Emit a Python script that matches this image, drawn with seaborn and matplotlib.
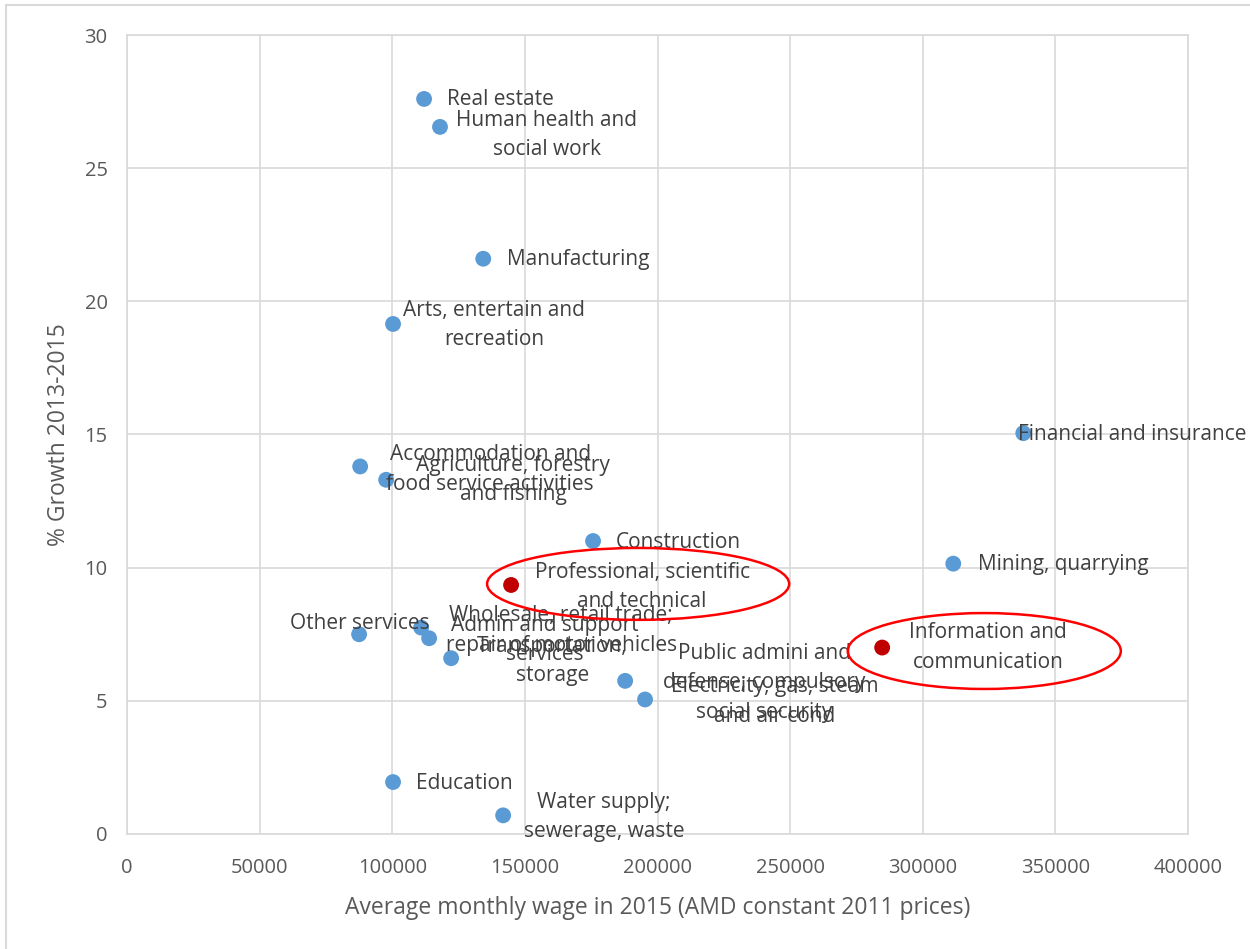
import matplotlib.pyplot as plt
import pandas as pd
import seaborn as sns
from matplotlib.patches import Ellipse, Rectangle


# Chart data
sectors = [
    "Real estate",
    "Human health and\nsocial work",
    "Manufacturing",
    "Arts, entertain and\nrecreation",
    "Financial and insurance",
    "Accommodation and\nfood service activities",
    "Agriculture, forestry\nand fishing",
    "Construction",
    "Mining, quarrying",
    "Professional, scientific\nand technical",
    "Information and\ncommunication",
    "Other services",
    "Wholesale, retail trade;\nrepair of motor vehicles",
    "Admin and support\nservices",
    "Transportation,\nstorage",
    "Public admini and\ndefense; compulsory\nsocial security",
    "Electricity, gas, steam\nand air cond",
    "Education",
    "Water supply;\nsewerage, waste",
]
wages = [112000, 118000, 134300, 100300, 337900, 87900, 97700, 175700, 311500,
         144800, 284700, 87500, 110900, 113900, 122200, 187800, 195300, 100300, 141800]
growth = [27.6, 26.55, 21.6, 19.15, 15.05, 13.8, 13.3, 11.0, 10.15,
          9.35, 7.0, 7.5, 7.75, 7.35, 6.6, 5.75, 5.05, 1.95, 0.7]
highlight = ["no"] * 9 + ["yes", "yes"] + ["no"] * 8

df = pd.DataFrame({"sector": sectors, "wage": wages, "growth": growth, "highlight": highlight})

# Label offsets (pixels) from each dot to the centre of its label
label_offsets = [
    (76, -1), (107, -8), (95, -1), (101, -1), (109, -1), (130, -3), (127, 0),
    (85, -1), (110, -1), (131, -2), (106, 0), (1, 11), (140, -3), (116, -2),
    (101, -3), (139, -2), (130, -2), (71, -1), (101, -2),
]

sns.set_style("white")
plt.rcParams["font.family"] = ["Open Sans", "DejaVu Sans"]

fig = plt.figure(figsize=(12.5, 9.49), dpi=100)
ax = fig.add_axes([0.1016, 0.1212, 0.8488, 0.8419])

sns.scatterplot(
    data=df,
    x="wage",
    y="growth",
    hue="highlight",
    palette={"no": "#5B9BD5", "yes": "#C00000"},
    s=130,
    linewidth=0,
    legend=False,
    ax=ax,
    zorder=3,
)

# Data labels
for (name, x, y), (dx, dy) in zip(zip(sectors, wages, growth), label_offsets):
    ax.annotate(
        name,
        xy=(x, y),
        xytext=(dx, dy),
        textcoords="offset pixels",
        ha="center",
        va="center",
        multialignment="center",
        fontsize=15,
        color="#404040",
        linespacing=1.52,
        zorder=4,
        annotation_clip=False,
    )

# Red ellipses highlighting two sectors
ax.add_patch(Ellipse((192700, 9.39), 113900, 2.70, fill=False, edgecolor="#FF0000", lw=1.8, zorder=5))
ax.add_patch(Ellipse((323200, 6.87), 102950, 2.85, fill=False, edgecolor="#FF0000", lw=1.8, zorder=5))

ax.set_xlim(0, 400000)
ax.set_ylim(0, 30)
ax.set_xticks(range(0, 400001, 50000))
ax.set_yticks(range(0, 31, 5))
ax.grid(True, color="#D9D9D9", lw=1.2)
for spine in ax.spines.values():
    spine.set_color("#D9D9D9")
    spine.set_linewidth(1.2)
ax.tick_params(axis="both", length=0, labelsize=14.5, labelcolor="#595959")
ax.tick_params(axis="x", pad=17)
ax.tick_params(axis="y", pad=14)

ax.set_xlabel("Average monthly wage in 2015 (AMD constant 2011 prices)", fontsize=16.5, color="#595959", labelpad=13)
ax.set_ylabel("% Growth 2013-2015", fontsize=16.5, color="#595959", labelpad=10)

# Outer chart border
fig.patches.append(Rectangle((0.005, -0.1), 1.1, 1.095, transform=fig.transFigure,
                             fill=False, edgecolor="#D9D9D9", lw=1.5))

plt.savefig("out.png", dpi=100)
